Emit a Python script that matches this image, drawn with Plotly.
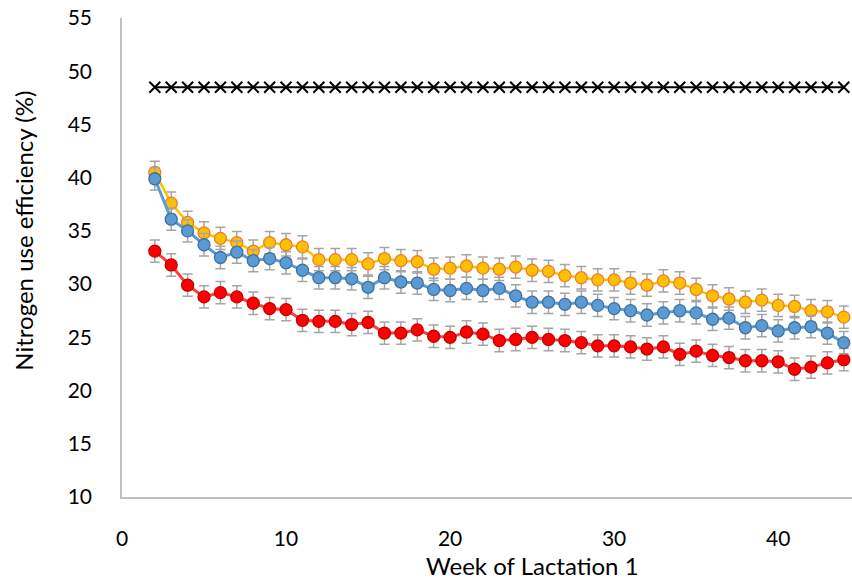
import plotly.graph_objects as go

weeks = [2, 3, 4, 5, 6, 7, 8, 9, 10, 11, 12, 13, 14, 15, 16, 17, 18, 19, 20, 21, 22,
         23, 24, 25, 26, 27, 28, 29, 30, 31, 32, 33, 34, 35, 36, 37, 38, 39, 40, 41,
         42, 43, 44]

reference = [48.5, 48.5, 48.5, 48.5, 48.5, 48.5, 48.5, 48.5, 48.5, 48.5, 48.5, 48.5,
             48.5, 48.5, 48.5, 48.5, 48.5, 48.5, 48.5, 48.5, 48.5, 48.5, 48.5, 48.5,
             48.5, 48.5, 48.5, 48.5, 48.5, 48.5, 48.5, 48.5, 48.5, 48.5, 48.5, 48.5,
             48.5, 48.5, 48.5, 48.5, 48.5, 48.5, 48.5]

orange = [40.5, 37.6, 35.8, 34.8, 34.3, 33.9, 33.1, 33.9, 33.7, 33.5,
          32.3, 32.3, 32.3, 31.9, 32.4, 32.2, 32.1, 31.4, 31.5, 31.7,
          31.5, 31.4, 31.6, 31.3, 31.2, 30.8, 30.6, 30.4, 30.4, 30.1,
          29.9, 30.3, 30.1, 29.5, 28.9, 28.6, 28.3, 28.5, 28.0, 27.9,
          27.5, 27.4, 26.9]

blue = [39.9, 36.1, 35.0, 33.7, 32.5, 33.0, 32.2, 32.4, 32.0, 31.3,
        30.6, 30.6, 30.5, 29.7, 30.6, 30.2, 30.1, 29.5, 29.4, 29.6,
        29.4, 29.6, 28.9, 28.3, 28.3, 28.1, 28.3, 28.0, 27.7, 27.5,
        27.1, 27.3, 27.5, 27.3, 26.7, 26.8, 25.9, 26.1, 25.6, 25.9,
        26.0, 25.4, 24.5]

red = [33.1, 31.8, 29.9, 28.8, 29.2, 28.8, 28.2, 27.7, 27.6, 26.6,
       26.5, 26.5, 26.2, 26.4, 25.4, 25.4, 25.7, 25.1, 25.0, 25.5,
       25.3, 24.7, 24.8, 25.0, 24.8, 24.7, 24.5, 24.2, 24.2, 24.1,
       23.9, 24.1, 23.4, 23.7, 23.3, 23.1, 22.8, 22.8, 22.7, 22.0,
       22.2, 22.6, 22.9]

err = 1.05

y_ticks = [10, 15, 20, 25, 30, 35, 40, 45, 50, 55]
x_ticks = [0, 10, 20, 30, 40]

FONT = "Lato"
GRAY = "#A5A5A5"

def err_bar():
    return dict(type="constant", value=err, color=GRAY, thickness=1.5, width=5)

fig = go.Figure()

fig.add_trace(go.Scatter(
    x=weeks, y=reference, mode="lines+markers",
    line=dict(color="black", width=2),
    marker=dict(symbol="x-thin", size=11, line=dict(color="black", width=2)),
    showlegend=False))

fig.add_trace(go.Scatter(
    x=weeks, y=orange, mode="lines+markers",
    line=dict(color="#FFC000", width=2.5),
    marker=dict(symbol="circle", size=12, color="#FFC000",
                line=dict(color="#ED7D31", width=1.3)),
    error_y=err_bar(), showlegend=False))

fig.add_trace(go.Scatter(
    x=weeks, y=red, mode="lines+markers",
    line=dict(color="#FF3B3B", width=3),
    marker=dict(symbol="circle", size=12, color="#FF0000",
                line=dict(color="#C00000", width=1.3)),
    error_y=err_bar(), showlegend=False))

fig.add_trace(go.Scatter(
    x=weeks, y=blue, mode="lines+markers",
    line=dict(color="#5B9BD5", width=3),
    marker=dict(symbol="circle", size=12, color="#5B9BD5",
                line=dict(color="#41719C", width=1.3)),
    error_y=err_bar(), showlegend=False))

fig.update_layout(
    width=852, height=580,
    margin=dict(l=122, r=0, t=18, b=83),
    paper_bgcolor="white", plot_bgcolor="white",
    font=dict(family=FONT, size=21, color="#000000"),
    xaxis=dict(range=[0, 44.5], tickvals=x_ticks, showgrid=False, zeroline=False,
               showline=True, linecolor="#BFBFBF", linewidth=1.5, ticks="",
               ticklabelstandoff=22, tickfont=dict(family=FONT, size=21)),
    yaxis=dict(range=[10, 55], tickvals=y_ticks, showgrid=False, zeroline=False,
               showline=True, linecolor="#BFBFBF", linewidth=1.5, ticks="",
               ticklabelstandoff=24, tickfont=dict(family=FONT, size=21)),
    annotations=[
        dict(text="Week of Lactation 1", xref="x", x=25, yref="paper", y=-0.142,
             xanchor="center", yanchor="middle", showarrow=False,
             font=dict(family=FONT, size=24)),
        dict(text="Nitrogen use efficiency (%)", xref="paper", x=-0.135, yref="paper",
             y=0.557, xanchor="center", yanchor="middle", textangle=-90,
             showarrow=False, font=dict(family=FONT, size=24)),
    ],
)

fig.write_html("out.html")
